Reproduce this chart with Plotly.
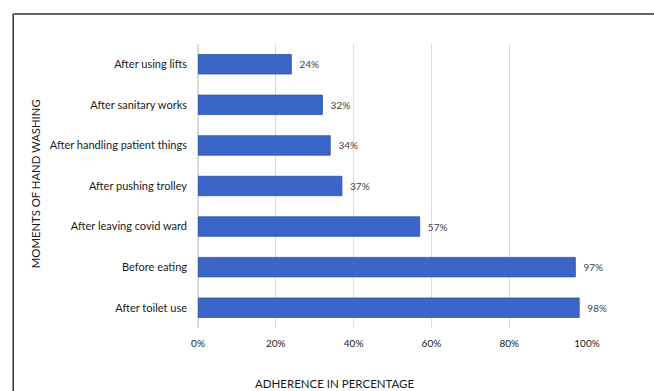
import plotly.graph_objects as go

categories = ["After toilet use", "Before eating", "After leaving covid ward",
              "After pushing trolley", "After handling patient things",
              "After sanitary works", "After using lifts"]
values = [98, 97, 57, 37, 34, 32, 24]
tick_vals = [0, 20, 40, 60, 80, 100]
tick_text = ["0%", "20%", "40%", "60%", "80%", "100%"]

FONT = "Lato, Open Sans, sans-serif"

fig = go.Figure(go.Bar(
    x=values, y=categories, orientation="h",
    marker=dict(color="#3B65C6", line=dict(color="#2F54A8", width=0.8)),
    text=[f"  {v}%" for v in values], textposition="outside",
    textfont=dict(family=FONT, size=10, color="#404040"),
    cliponaxis=False, width=0.48,
))

fig.update_layout(
    width=654, height=391,
    margin=dict(l=198, r=67, t=44, b=63),
    paper_bgcolor="white", plot_bgcolor="white",
    showlegend=False,
    font=dict(family=FONT, size=11, color="#1a1a1a"),
    xaxis=dict(range=[0, 100], tickvals=tick_vals, ticktext=tick_text,
               showgrid=True, gridcolor="#d9d9d9", gridwidth=1,
               zeroline=True, zerolinecolor="#d9d9d9", showline=False,
               ticks="", tickfont=dict(size=10, color="#1a1a1a"), ticklabelstandoff=8),
    yaxis=dict(categoryorder="array", categoryarray=categories,
               showgrid=False, ticks="", showline=False,
               tickfont=dict(size=11, color="#1a1a1a"), ticklabelstandoff=10),
    shapes=[
        dict(type="line", xref="paper", yref="paper", x0=-0.475, x1=1.2,
             y0=1.1056, y1=1.1056, line=dict(color="#333333", width=1.5)),
        dict(type="line", xref="paper", yref="paper", x0=-0.475, x1=-0.475,
             y0=1.1056, y1=-0.25, line=dict(color="#333333", width=1.5)),
    ],
    annotations=[
        dict(text="ADHERENCE IN PERCENTAGE", xref="paper", yref="paper",
             x=(335 - 198) / 389.3, y=(328 - 383) / 284, showarrow=False,
             xanchor="center", yanchor="middle",
             font=dict(family=FONT, size=11.5, color="#1a1a1a")),
        dict(text="MOMENTS OF HAND WASHING", xref="paper", yref="paper",
             x=(35 - 198) / 389.3, y=(328 - 184) / 284, showarrow=False,
             textangle=-90, xanchor="center", yanchor="middle",
             font=dict(family=FONT, size=11.3, color="#1a1a1a")),
    ],
)

fig.write_html("out.html")
